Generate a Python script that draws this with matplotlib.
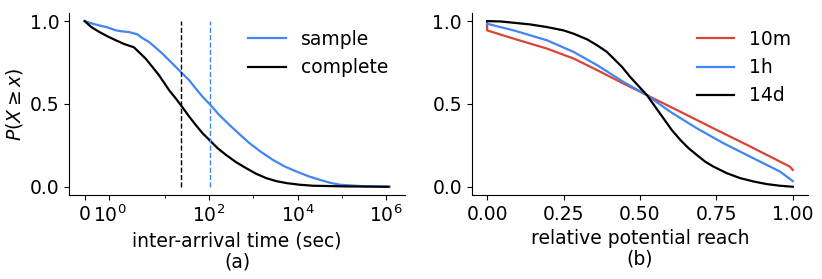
import matplotlib
matplotlib.use("Agg")
import matplotlib.pyplot as plt

# ---- panel (a): inter-arrival time CCDF ----
x_complete = [0, 0.27, 0.6, 0.93, 1.27, 1.6, 2, 2.6, 3.68, 5.22, 7.4, 9.6, 12.5, 17.7, 23,
              35.6, 50, 71.4, 101, 157, 242, 409, 690, 1165, 1960, 3300, 5600, 11250, 22600,
              1.3e5, 1.14e6]
y_complete = [1.0, 0.964, 0.934, 0.908, 0.884, 0.862, 0.842, 0.813, 0.774, 0.724, 0.673,
              0.629, 0.583, 0.533, 0.493, 0.423, 0.373, 0.323, 0.283, 0.232, 0.192, 0.148,
              0.112, 0.078, 0.052, 0.034, 0.022, 0.012, 0.006, 0.002, 0.0]

x_sample = [0, 0.33, 0.6, 0.93, 1.27, 1.53, 1.8, 2.4, 3.1, 4.4, 6.2, 8.8, 13.6, 23, 35.6, 50,
            71.4, 105, 170, 290, 487, 820, 1515, 2770, 5140, 9400, 17400, 31700, 54000,
            91000, 3.1e5, 1.2e6]
y_sample = [1.0, 0.984, 0.974, 0.962, 0.944, 0.938, 0.934, 0.920, 0.898, 0.874, 0.840, 0.804,
            0.754, 0.693, 0.643, 0.593, 0.543, 0.497, 0.433, 0.373, 0.317, 0.263, 0.209,
            0.162, 0.122, 0.092, 0.064, 0.042, 0.024, 0.012, 0.003, 0.0]

median_complete = 23
median_sample = 105

xticks_a = [0, 1, 100, 1e4, 1e6]
xticklabels_a = ["0", "$10^0$", "$10^2$", "$10^4$", "$10^6$"]
xminor_a = [10, 1e3, 1e5]

# ---- panel (b): relative potential reach CCDF ----
x_14d = [0.0, 0.044, 0.087, 0.141, 0.196, 0.25, 0.283, 0.327, 0.36, 0.392, 0.414, 0.441,
         0.468, 0.495, 0.523, 0.55, 0.577, 0.604, 0.632, 0.659, 0.686, 0.713, 0.74, 0.784,
         0.828, 0.871, 0.915, 0.958, 1.0]
y_14d = [1.0, 0.998, 0.990, 0.980, 0.964, 0.944, 0.924, 0.890, 0.854, 0.814, 0.774, 0.724,
         0.663, 0.609, 0.553, 0.483, 0.413, 0.343, 0.283, 0.233, 0.192, 0.152, 0.122, 0.082,
         0.052, 0.032, 0.016, 0.006, 0.0]

x_1h = [0, 0.087, 0.196, 0.283, 0.36, 0.446, 0.523, 0.599, 0.686, 0.773, 0.871, 0.958, 1.0]
y_1h = [0.984, 0.944, 0.884, 0.814, 0.734, 0.633, 0.553, 0.453, 0.353, 0.263, 0.172,
        0.092, 0.034]

x_10m = [0, 0, 0.087, 0.196, 0.283, 0.36, 0.446, 0.523, 0.632, 0.74, 0.85, 0.958, 0.99, 1.0]
y_10m = [1.0, 0.944, 0.894, 0.834, 0.774, 0.704, 0.623, 0.553, 0.453, 0.353, 0.253, 0.152,
         0.122, 0.102]

xticks_b = [0.0, 0.25, 0.5, 0.75, 1.0]
xticklabels_b = ["0.00", "0.25", "0.50", "0.75", "1.00"]
yticks = [0.0, 0.5, 1.0]

BLUE = "#4285F4"
RED = "#DB4437"
FS = 13.5

plt.rcParams["font.family"] = ["DejaVu Sans"]
plt.rcParams["font.size"] = FS

fig = plt.figure(figsize=(8.22, 2.79), dpi=100)
ax1 = fig.add_axes([0.0845, 0.301, 0.408, 0.653])
ax2 = fig.add_axes([0.574, 0.301, 0.409, 0.653])

# panel a
ax1.set_xscale("symlog", linthresh=2, linscale=1)
ax1.plot(x_sample, y_sample, color=BLUE, lw=1.6, label="sample")
ax1.plot(x_complete, y_complete, color="black", lw=1.6, label="complete")
ax1.vlines(median_complete, 0, 1, colors="black", linestyles="--", lw=1)
ax1.vlines(median_sample, 0, 1, colors=BLUE, linestyles="--", lw=1)
ax1.set_xticks(xticks_a)
ax1.set_xticklabels(xticklabels_a)
ax1.set_xticks(xminor_a, minor=True)
ax1.set_xticklabels([], minor=True)
ax1.set_yticks(yticks)
ax1.set_xlabel("inter-arrival time (sec)\n(a)", fontsize=FS, linespacing=1.1)
ax1.set_ylabel(r"$P(X \geq x)$", fontsize=FS)
ax1.legend(frameon=False, loc="upper right", fontsize=FS)

# panel b
ax2.plot(x_10m, y_10m, color=RED, lw=1.6, label="10m")
ax2.plot(x_1h, y_1h, color=BLUE, lw=1.6, label="1h")
ax2.plot(x_14d, y_14d, color="black", lw=1.6, label="14d")
ax2.set_xticks(xticks_b)
ax2.set_xticklabels(xticklabels_b)
ax2.set_yticks(yticks)
ax2.set_xlabel("relative potential reach\n(b)", fontsize=FS, linespacing=1.1)
ax2.legend(frameon=False, loc="upper right", fontsize=FS)

for ax in (ax1, ax2):
    ax.spines["top"].set_visible(False)
    ax.spines["right"].set_visible(False)
    ax.tick_params(labelsize=FS)

fig.savefig("out.png", dpi=100)
